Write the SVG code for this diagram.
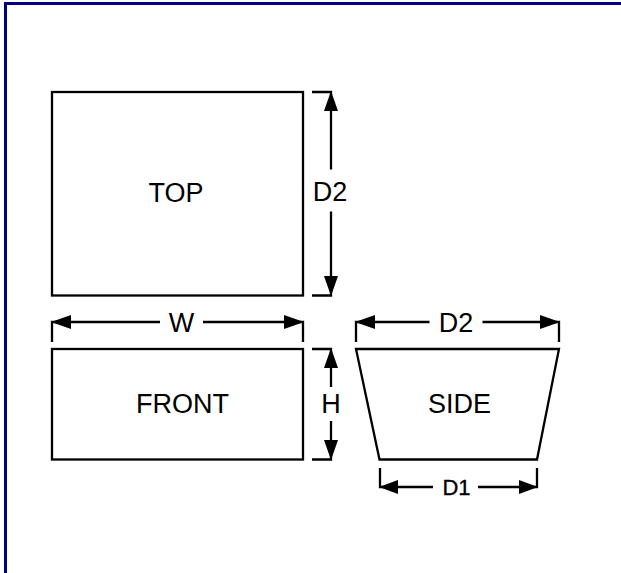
<svg xmlns="http://www.w3.org/2000/svg" width="621" height="573" viewBox="0 0 621 573">
<style>
.s{fill:none;stroke:#000;stroke-width:2.3}
.t{font-family:"Liberation Sans",Arial,sans-serif;font-size:27px;fill:#000;text-anchor:middle}
.sm{font-size:22px;stroke:#000;stroke-width:.35}
.h{fill:#000}
</style>
<rect width="621" height="573" fill="#fff"/>
<path d="M5.500 573V3.500H621" fill="none" stroke="#000080" stroke-width="3"/>
<g id="top"><rect class="s" x="52" y="92" width="251" height="203.500"/><text class="t" x="176" y="202">TOP</text></g>
<g id="front"><rect class="s" x="52" y="349" width="251" height="110.500"/><text class="t" x="182.500" y="413">FRONT</text></g>
<g id="side"><path class="s" d="M356 349H559L537 459.500H379.500Z"/><text class="t" x="459.500" y="413">SIDE</text></g>
<g id="connectors">
<path class="s" d="M312 92H331V169.500M331 211.500V295.500H312M312 349H331V387M331 421V459.500H312"/>
<path class="s" d="M52 342V322H160M203 322H303V342"/>
<path class="s" d="M356 342V322H429.500M482.500 322H559V342"/>
<path class="s" d="M380 468V487H433M478 487H537V468"/>
<path class="h" d="M331 91L338 111H324ZM331 296L338 276H324ZM331 348L338 368H324ZM331 460L338 440H324ZM51 322L71 315V329ZM304 322L284 315V329ZM355 322L375 315V329ZM560 322L540 315V329ZM379 487L398 480V494ZM538 487L519 480V494Z"/>
<text class="t" x="330" y="201">D2</text>
<text class="t" x="331" y="413">H</text>
<text class="t" x="181.500" y="332">W</text>
<text class="t" x="456" y="332">D2</text>
<text class="t sm" x="456.500" y="495">D1</text>
</g>
</svg>
